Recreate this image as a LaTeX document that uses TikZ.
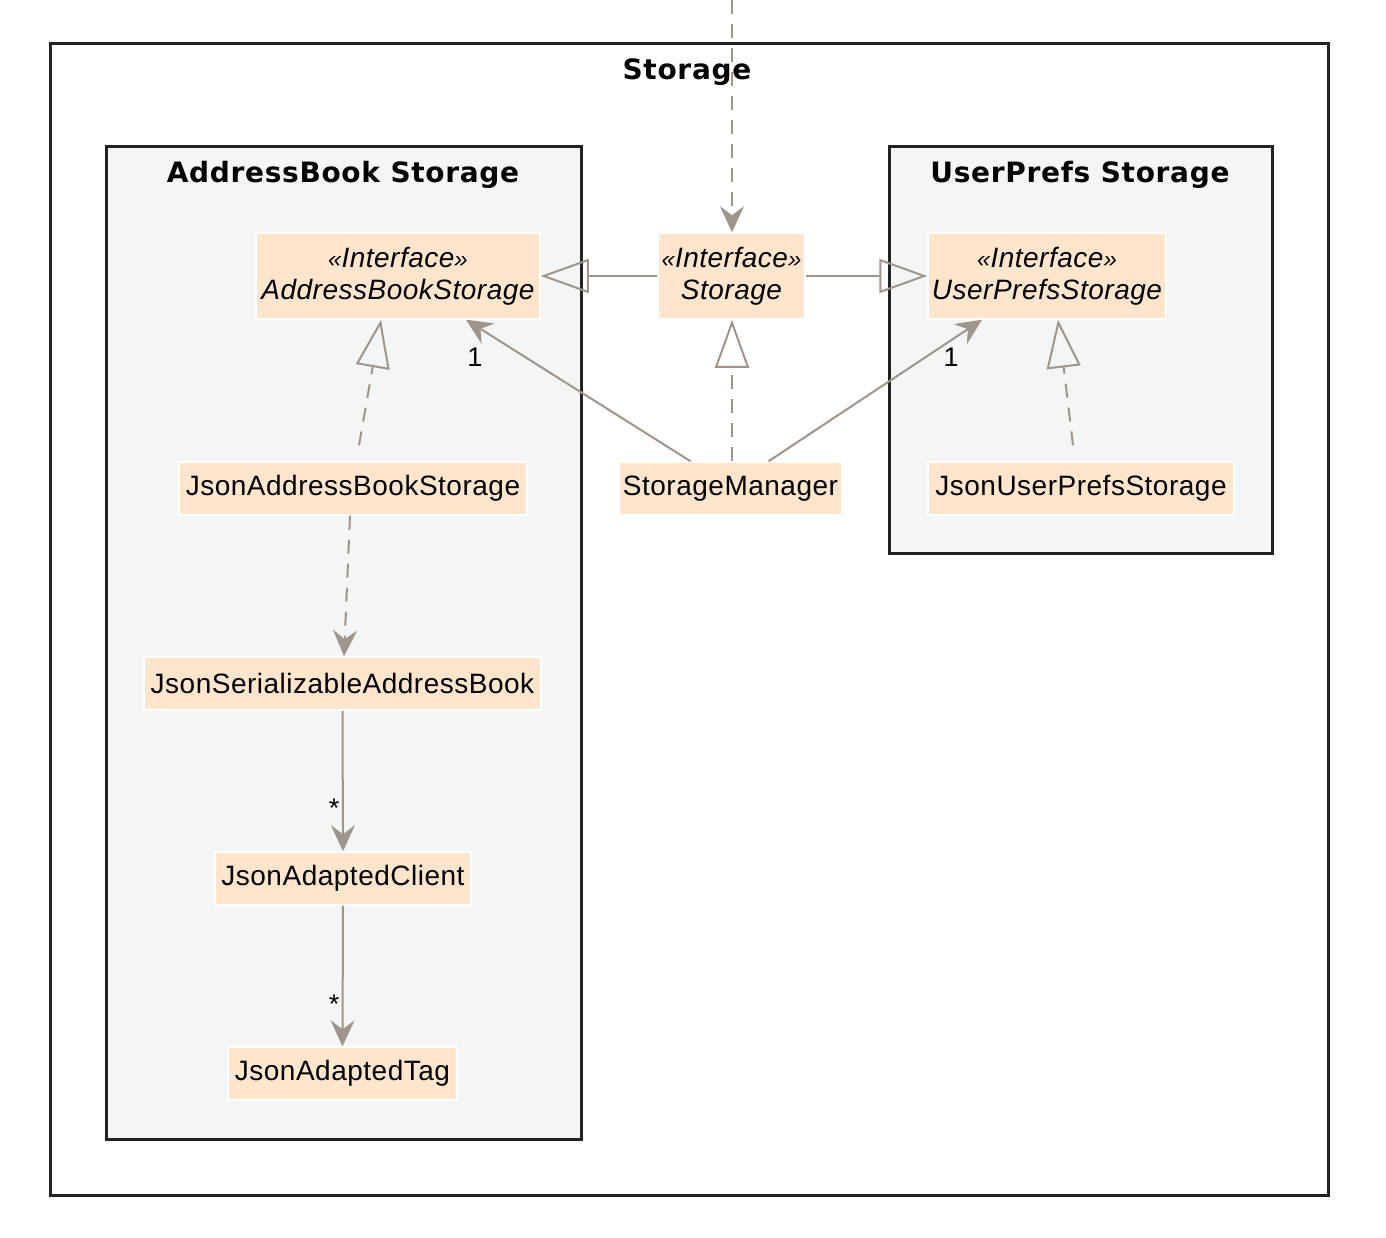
\documentclass[tikz,border=0pt]{standalone}
\usepackage{fontspec}
\setmainfont{Liberation Sans}[LetterSpace=1.8]
\newfontfamily\titlefont{DejaVu Sans}[LetterSpace=2.5]
\usetikzlibrary{arrows.meta}
\definecolor{edgec}{HTML}{A0958A}
\definecolor{clsc}{HTML}{FEE5CC}
\definecolor{pkgc}{HTML}{F4F6F6}
\definecolor{framec}{HTML}{222222}
\begin{document}
\begin{tikzpicture}[x=1pt,y=-1pt,
  clsbox/.style={fill=clsc, draw=white, line width=1.5pt, inner sep=0pt, align=center,
     font=\fontsize{28}{32}\selectfont},
  iface/.style={clsbox, font=\itshape\fontsize{28}{32}\selectfont},
  pkgbox/.style={draw=framec, line width=3pt, fill=pkgc},
  ttl/.style={font=\titlefont\bfseries\fontsize{28}{32}\selectfont},
  conn/.style={draw=edgec, line width=2pt},
  dashconn/.style={conn, dash pattern=on 14pt off 10pt},
  navarrow/.style={-{Stealth[length=26pt,width=24pt,inset=9pt]}},
  genarrow/.style={-{Triangle[open,length=48pt,width=34pt,line width=2pt]}},
  mult/.style={font=\fontsize{27}{30}\selectfont, text=black, inner sep=0pt}
]
\useasboundingbox (0,0) rectangle (1386,1238);
\fill[white] (0,0) rectangle (1386,1238);

% frames
\draw[draw=framec, line width=3pt, fill=white] (50,44) rectangle (1328,1195);
\node[ttl] (t0) at (687,72) {Storage};
\draw[pkgbox] (106,147) rectangle (581,1139);
\node[ttl] (t1) at (343,175) {AddressBook Storage};
\draw[pkgbox] (889,147) rectangle (1272,553);
\node[ttl] (t2) at (1080,175) {UserPrefs Storage};

% classes
\node[iface, minimum width=284pt, minimum height=86pt] (abs) at (398,276)
  {{\fontsize{24}{32}\selectfont«}Interface{\fontsize{24}{32}\selectfont»}\\AddressBookStorage};
\node[iface, minimum width=147pt, minimum height=86pt] (st) at (731.5,276)
  {{\fontsize{24}{32}\selectfont«}Interface{\fontsize{24}{32}\selectfont»}\\Storage};
\node[iface, minimum width=238pt, minimum height=86pt] (ups) at (1047,276)
  {{\fontsize{24}{32}\selectfont«}Interface{\fontsize{24}{32}\selectfont»}\\UserPrefsStorage};
\node[clsbox, minimum width=348pt, minimum height=53pt] (jabs) at (353,488.5) {JsonAddressBookStorage};
\node[clsbox, minimum width=223pt, minimum height=53pt] (sm) at (730.5,488.5) {StorageManager};
\node[clsbox, minimum width=306pt, minimum height=53pt] (jups) at (1081,488.5) {JsonUserPrefsStorage};
\node[clsbox, minimum width=397pt, minimum height=53pt] (jsab) at (342.5,683.5) {JsonSerializableAddressBook};
\node[clsbox, minimum width=256pt, minimum height=53pt] (jac) at (343,878.5) {JsonAdaptedClient};
\node[clsbox, minimum width=229pt, minimum height=53pt] (jat) at (342.5,1073.5) {JsonAdaptedTag};

% connectors
\coordinate (topin) at (732,0);
\draw[dashconn, navarrow] (topin) -- ([xshift=0.5pt]st.north);
\draw[conn, genarrow] (st.west) -- (abs.east);
\draw[conn, genarrow] (st.east) -- (ups.west);
\draw[dashconn, genarrow] ([xshift=1.5pt]sm.north) -- ([xshift=0.5pt]st.south);
\draw[conn, navarrow] ([xshift=-40pt]sm.north) -- ([xshift=68pt]abs.south);
\node[mult] (m1) at (475,357) {1};
\draw[conn, navarrow] ([xshift=38pt]sm.north) -- ([xshift=-65pt]ups.south);
\node[mult] (m2) at (951,357) {1};
\draw[dashconn, genarrow] ([xshift=6pt,yshift=16pt]jabs.north) -- ([xshift=-17pt]abs.south);
\draw[dashconn, genarrow] ([xshift=-8pt,yshift=16pt]jups.north) -- ([xshift=11pt]ups.south);
\draw[dashconn, navarrow] ([xshift=-3pt]jabs.south) -- ([xshift=1.5pt]jsab.north);
\draw[conn, navarrow] (jsab.south) -- (jac.north);
\node[mult] (m3) at (334,808) {*};
\draw[conn, navarrow] (jac.south) -- (jat.north);
\node[mult] (m4) at (334,1004) {*};
\end{tikzpicture}
\end{document}
